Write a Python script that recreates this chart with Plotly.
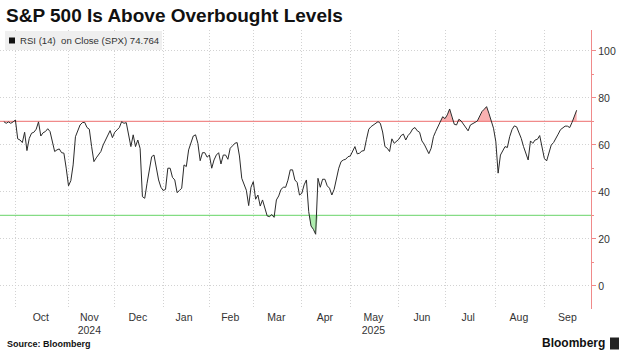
import pandas as pd
import plotly.graph_objects as go

# ---------------- data ----------------
start_date = "2024-09-24"
end_date = "2025-09-22"
market_holidays = ["2024-11-28", "2024-12-25", "2025-01-01", "2025-01-09", "2025-01-20",
                   "2025-02-17", "2025-04-18", "2025-05-26", "2025-06-19", "2025-07-04",
                   "2025-09-01"]

rsi_values = [
    69.9, 69.2, 69.8, 69.2, 69.8, 70.6, 62.6, 62.1, 61.0, 65.4,
    57.6, 62.8, 65.0, 65.4, 66.7, 69.8, 63.8, 65.2, 65.7, 66.9,
    65.7, 61.8, 57.2, 57.9, 58.3, 56.7, 56.5, 50.1, 42.6, 44.8,
    51.5, 63.5, 66.4, 68.5, 69.5, 69.6, 67.4, 66.7, 59.3, 52.9,
    54.5, 56.0, 57.2, 60.0, 62.1, 63.5, 66.1, 63.1, 65.4, 66.4,
    67.4, 69.9, 69.2, 69.5, 63.5, 59.3, 64.3, 59.3, 62.1, 58.5,
    38.0, 37.3, 43.7, 48.6, 55.0, 55.7, 50.1, 45.1, 42.0, 40.6,
    41.1, 50.1, 50.1, 46.2, 45.1, 39.7, 40.6, 41.6, 51.5, 50.8,
    57.9, 60.7, 63.8, 64.3, 60.7, 53.3, 56.7, 56.7, 54.8, 55.7,
    50.1, 53.6, 55.7, 56.7, 51.9, 55.7, 55.7, 53.9, 58.6, 59.6,
    60.7, 61.0, 55.3, 45.8, 43.0, 40.7, 34.2, 42.0, 44.4, 36.9,
    38.7, 34.0, 36.6, 33.0, 29.8, 29.5, 30.4, 29.2, 36.6, 38.3,
    41.1, 42.0, 42.0, 45.0, 49.4, 49.4, 45.1, 44.0, 38.7, 39.4,
    43.0, 45.1, 31.6, 25.5, 24.1, 22.0, 45.8, 42.0, 45.4, 45.4,
    42.6, 41.6, 38.7, 41.1, 46.2, 50.1, 52.9, 53.6, 53.9, 55.0,
    55.3, 57.2, 59.3, 56.2, 56.5, 57.4, 57.6, 62.4, 66.7, 67.8,
    68.6, 69.2, 69.9, 69.2, 65.5, 59.3, 58.6, 57.2, 62.6, 60.7,
    61.4, 62.4, 64.0, 64.6, 62.1, 64.0, 65.1, 66.8, 67.4, 66.0,
    65.4, 61.7, 60.3, 58.3, 56.3, 58.6, 63.5, 65.8, 68.0, 69.9,
    72.0, 71.2, 72.8, 75.3, 71.4, 68.8, 68.5, 70.9, 70.2, 68.8,
    67.1, 66.0, 68.5, 69.2, 69.6, 70.2, 72.0, 74.2, 75.2, 76.3,
    73.5, 69.9, 67.1, 61.4, 48.0, 55.7, 57.4, 59.3, 58.9, 63.5,
    66.5, 68.1, 67.7, 65.4, 62.8, 59.3, 56.0, 53.6, 61.7, 60.7,
    62.1, 62.4, 64.0, 58.9, 54.3, 53.2, 57.2, 60.0, 61.0, 62.6,
    64.6, 66.5, 67.1, 68.0, 68.0, 67.4, 69.6, 72.0, 74.764,
]

month_labels = ["Oct", "Nov<br>2024", "Dec", "Jan", "Feb", "Mar", "Apr",
                "May<br>2025", "Jun", "Jul", "Aug", "Sep"]
month_label_dates = ["2024-10-16", "2024-11-14", "2024-12-16", "2025-01-16", "2025-02-14",
                     "2025-03-17", "2025-04-15", "2025-05-15", "2025-06-16", "2025-07-16",
                     "2025-08-15", "2025-09-16"]
month_starts = ["2024-10-01", "2024-11-01", "2024-12-02", "2025-01-02", "2025-02-03",
                "2025-03-03", "2025-04-01", "2025-05-01", "2025-06-02", "2025-07-01",
                "2025-08-01", "2025-09-02"]
y_ticks = [0, 20, 40, 60, 80, 100]
y_minor_ticks = [10, 30, 50, 70, 90]
overbought = 70
oversold = 30
legend_text = "RSI (14)\u00a0\u00a0on Close (SPX) 74.764"

# ---------------- build ----------------
dates = pd.bdate_range(start_date, end_date)
dates = dates[~dates.isin(pd.to_datetime(market_holidays))]
n = min(len(dates), len(rsi_values))
dates = dates[:n]
rsi = rsi_values[:n]

hi_fill = [max(v, overbought) for v in rsi]
lo_fill = [min(v, oversold) for v in rsi]

# page geometry (pixels)
W, H = 637, 360
ML, MR, MT, MB = 0, 46, 30, 51
PW, PH = W - ML - MR, H - MT - MB


def xp(px):
    return (px - ML) / PW


def yp(py):
    return (H - MB - py) / PH


fig = go.Figure()
fig.add_trace(go.Scatter(x=dates, y=[overbought] * n, mode="lines",
                         line=dict(width=0), hoverinfo="skip", showlegend=False))
fig.add_trace(go.Scatter(x=dates, y=hi_fill, mode="lines", fill="tonexty",
                         fillcolor="rgba(245,125,125,0.6)", line=dict(width=0),
                         hoverinfo="skip", showlegend=False))
fig.add_trace(go.Scatter(x=dates, y=[oversold] * n, mode="lines",
                         line=dict(width=0), hoverinfo="skip", showlegend=False))
fig.add_trace(go.Scatter(x=dates, y=lo_fill, mode="lines", fill="tonexty",
                         fillcolor="rgba(120,225,120,0.6)", line=dict(width=0),
                         hoverinfo="skip", showlegend=False))
fig.add_trace(go.Scatter(x=dates, y=rsi, mode="lines",
                         line=dict(color="#2b2b2b", width=1), showlegend=False))

# threshold lines
fig.add_shape(type="line", xref="paper", x0=0, x1=1, yref="y", y0=overbought, y1=overbought,
              line=dict(color="#f08a8a", width=1.3), layer="between")
fig.add_shape(type="line", xref="paper", x0=0, x1=1, yref="y", y0=oversold, y1=oversold,
              line=dict(color="#86dc86", width=1.3), layer="between")

# legend box
fig.add_shape(type="rect", xref="paper", yref="paper", x0=xp(5), x1=xp(162), y0=yp(50), y1=yp(31),
              fillcolor="#efefef", line=dict(width=0), layer="above")
fig.add_shape(type="rect", xref="paper", yref="paper", x0=xp(9), x1=xp(15), y0=yp(43.5), y1=yp(37.5),
              fillcolor="#111111", line=dict(width=0), layer="above")
fig.add_annotation(xref="paper", yref="paper", x=xp(17.5), y=yp(40.5), xanchor="left", yanchor="middle",
                   text=legend_text, showarrow=False,
                   font=dict(family="Liberation Sans", size=9.6, color="#333"))

# title
fig.add_annotation(xref="paper", yref="paper", x=xp(4), y=yp(15), xanchor="left", yanchor="middle",
                   text="<b>S&amp;P 500 Is Above Overbought Levels</b>", showarrow=False,
                   font=dict(family="Liberation Sans", size=19, color="#111"))
# footer
fig.add_annotation(xref="paper", yref="paper", x=xp(5), y=yp(344), xanchor="left", yanchor="middle",
                   text="<b>Source: Bloomberg</b>", showarrow=False,
                   font=dict(family="Liberation Sans", size=9, color="#111"))
fig.add_annotation(xref="paper", yref="paper", x=xp(607), y=yp(343.5), xanchor="right", yanchor="middle",
                   text="<b>Bloomberg</b>", showarrow=False,
                   font=dict(family="Liberation Sans", size=12, color="#111"))
fig.add_shape(type="rect", xref="paper", yref="paper", x0=xp(610), x1=xp(619), y0=yp(349.5), y1=yp(337.5),
              fillcolor="#222", line=dict(width=0), layer="above")

fig.update_xaxes(
    range=["2024-09-20 08:00", "2025-09-30 05:00"],
    rangebreaks=[dict(bounds=["sat", "mon"]), dict(values=market_holidays)],
    tickmode="array", tickvals=month_label_dates, ticktext=month_labels,
    ticks="", showgrid=False, showline=False, zeroline=False,
    tickfont=dict(family="Liberation Sans", size=10.5, color="#333"),
    minor=dict(tickmode="array", tickvals=month_starts, showgrid=True,
               gridcolor="#d2d2d2", griddash="1px,2px", gridwidth=1, ticks=""),
)
fig.update_yaxes(
    side="right", range=[-9.8, 108.9],
    tickmode="array", tickvals=y_ticks,
    showgrid=True, gridcolor="#d2d2d2", griddash="1px,2px", gridwidth=1,
    showline=True, linecolor="#f08a8a", linewidth=1.3,
    ticks="outside", tickcolor="#f08a8a", ticklen=4, tickwidth=1.3,
    minor=dict(tickmode="array", tickvals=y_minor_ticks, ticks="outside", ticklen=2,
               tickcolor="#f08a8a", showgrid=False),
    zeroline=False,
    tickfont=dict(family="Liberation Sans", size=10.5, color="#333"),
)
fig.update_layout(
    width=W, height=H,
    margin=dict(l=ML, r=MR, t=MT, b=MB),
    paper_bgcolor="white", plot_bgcolor="white",
    showlegend=False,
)
fig.write_html("out.html", config={"displayModeBar": False},
               post_script="document.body.style.margin='0';")
